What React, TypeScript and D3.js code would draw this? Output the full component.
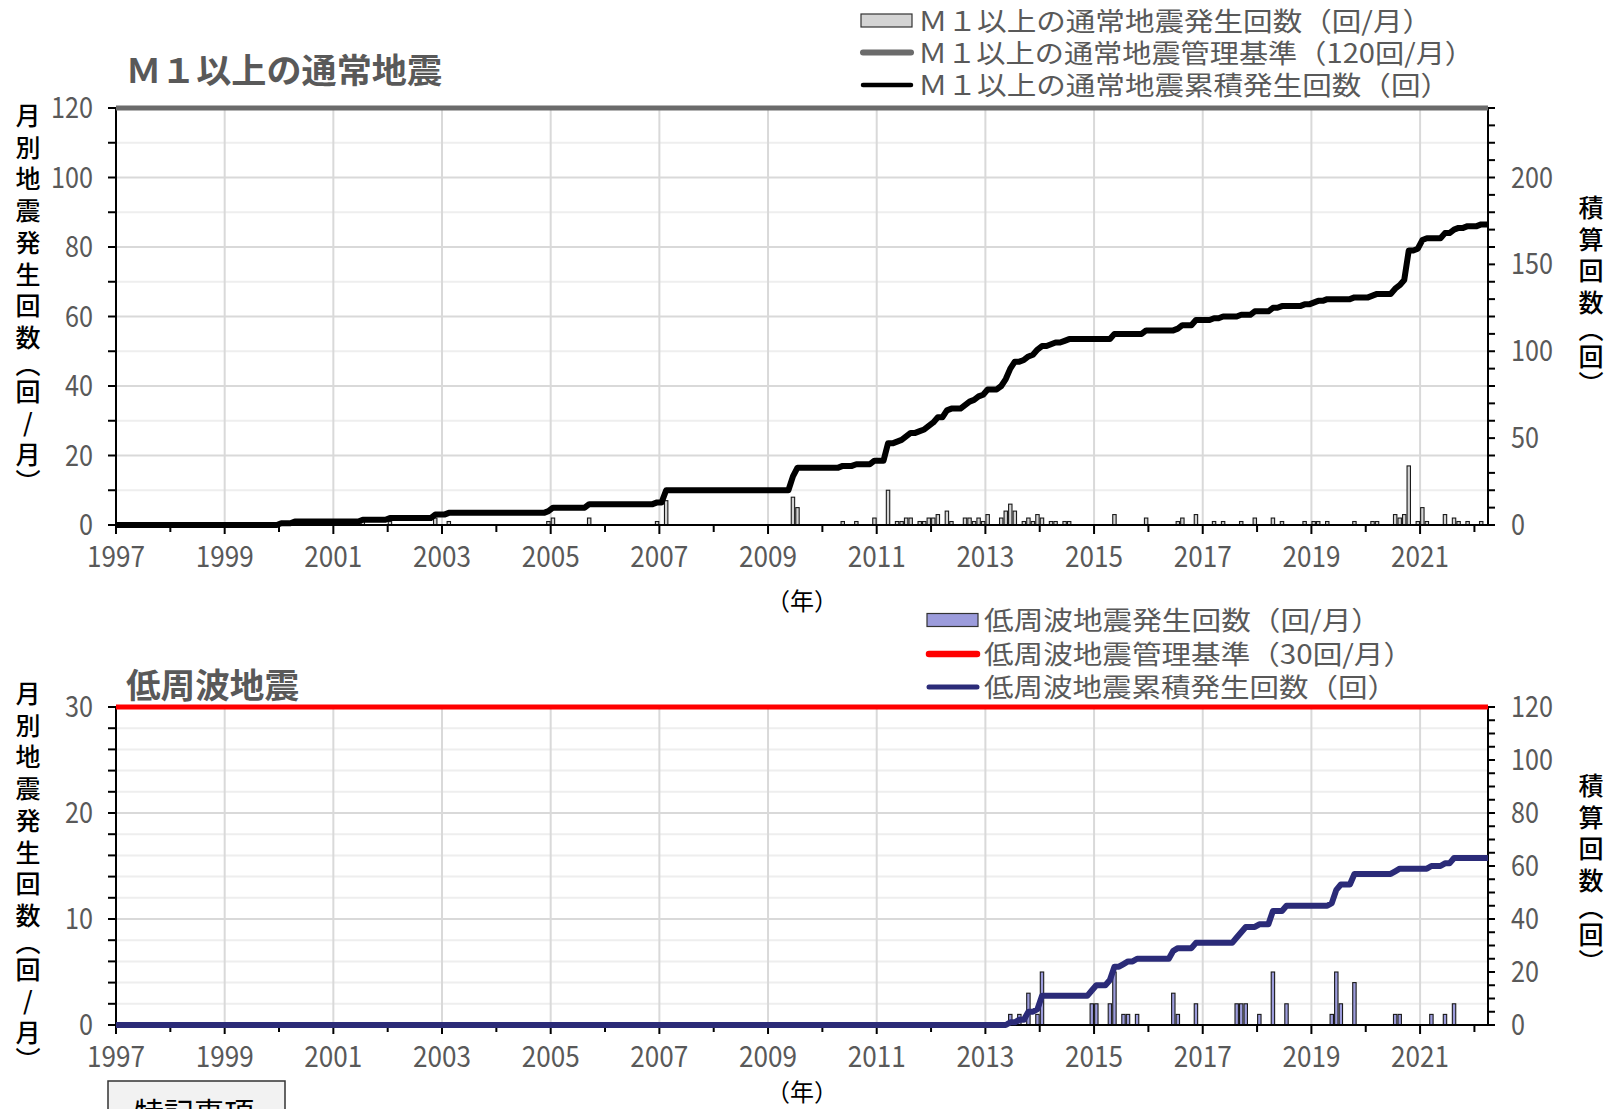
import * as d3 from "d3";

// month keys and counts (only non-zero months)
const m1Months = [
  "2000-01", "2000-04", "2001-07", "2002-01", "2002-11", "2003-02", "2004-12", "2005-01",
  "2005-09", "2006-12", "2007-02", "2009-06", "2009-07", "2010-05", "2010-08", "2010-12",
  "2011-03", "2011-05", "2011-06", "2011-07", "2011-08", "2011-10", "2011-11", "2011-12",
  "2012-01", "2012-02", "2012-04", "2012-05", "2012-08", "2012-09", "2012-10", "2012-11",
  "2012-12", "2013-01", "2013-04", "2013-05", "2013-06", "2013-07", "2013-09", "2013-10",
  "2013-11", "2013-12", "2014-01", "2014-03", "2014-04", "2014-06", "2014-07", "2015-05",
  "2015-12", "2016-07", "2016-08", "2016-11", "2017-03", "2017-05", "2017-09", "2017-12",
  "2018-04", "2018-06", "2018-11", "2019-01", "2019-02", "2019-04", "2019-10", "2020-02",
  "2020-03", "2020-07", "2020-08", "2020-09", "2020-10", "2020-12", "2021-01", "2021-02",
  "2021-06", "2021-08", "2021-09", "2021-11", "2022-02",
];
const m1Counts = [
  1, 1, 1, 1, 2, 1, 1, 2,
  2, 1, 7, 8, 5, 1, 1, 2,
  10, 1, 1, 2, 2, 1, 1, 2,
  2, 3, 4, 1, 2, 2, 1, 2,
  1, 3, 2, 4, 6, 4, 1, 2,
  1, 3, 2, 1, 1, 1, 1, 3,
  2, 1, 2, 3, 1, 1, 1, 2,
  2, 1, 1, 1, 1, 1, 1, 1,
  1, 3, 2, 3, 17, 1, 5, 1,
  3, 2, 1, 1, 1,
];

const lfMonths = [
  "2013-06", "2013-08", "2013-10", "2013-12", "2014-01", "2014-12", "2015-01", "2015-04",
  "2015-05", "2015-07", "2015-08", "2015-10", "2016-06", "2016-07", "2016-11", "2017-08",
  "2017-09", "2017-10", "2018-01", "2018-04", "2018-07", "2019-05", "2019-06", "2019-07",
  "2019-10", "2020-07", "2020-08", "2021-03", "2021-06", "2021-08",
];
const lfCounts = [
  1, 1, 3, 1, 5, 2, 2, 2,
  5, 1, 1, 1, 3, 1, 2, 2,
  2, 2, 1, 5, 2, 1, 5, 2,
  4, 1, 1, 1, 1, 2,
];

const yearLabels = [1997, 1999, 2001, 2003, 2005, 2007, 2009, 2011, 2013, 2015, 2017, 2019, 2021];
const leftTitle = ["月", "別", "地", "震", "発", "生", "回", "数", "︵", "回", "/", "月", "︶"];
const rightTitle = ["積", "算", "回", "数", "︵", "回", "︶"];

const START = 1997;
const END = 2022.25;
const N_MONTHS = 303;
const FONT = "'Noto Sans CJK JP', 'Noto Sans', sans-serif";
const GRAY_TEXT = "#595959";

const x = d3.scaleLinear().domain([START, END]).range([116, 1488]);

function toMonthly(months: string[], counts: number[]) {
  const arr = new Array(N_MONTHS).fill(0);
  months.forEach((m, i) => {
    const [yy, mm] = m.split("-").map(Number);
    arr[(yy - START) * 12 + mm - 1] += counts[i];
  });
  return arr;
}

interface PanelProps {
  top: number;
  bottom: number;
  yMax: number;
  tickStep: number;
  gridMajor: number;
  labelStep: number;
  rMax: number;
  rTickStep: number;
  rLabels: number[];
  months: string[];
  counts: number[];
  barFill: string;
  lineColor: string;
  limitColor: string;
}

function Panel(p: PanelProps) {
  const y = d3.scaleLinear().domain([0, p.yMax]).range([p.bottom, p.top]);
  const yr = d3.scaleLinear().domain([0, p.rMax]).range([p.bottom, p.top]);
  const monthly = toMonthly(p.months, p.counts);
  const cum = Array.from(d3.cumsum(monthly));
  const pts: [number, number][] = [[START, 0]];
  cum.forEach((v, i) => pts.push([START + (i + 0.5) / 12, v]));
  pts.push([END, cum[cum.length - 1]]);
  const line = d3
    .line<[number, number]>()
    .x((d) => x(d[0]))
    .y((d) => yr(d[1]));

  const yTicks = d3.range(0, p.yMax + 0.001, p.tickStep);
  const rTicks = d3.range(0, p.rMax + 0.001, p.rTickStep);
  const xTicks = d3.range(1997, 2023);
  const bw = 3.4;
  const left = x.range()[0];
  const right = x.range()[1];

  return (
    <g>
      {/* horizontal grid */}
      {yTicks.slice(1).map((t) => (
        <line
          key={"h" + t}
          x1={left}
          x2={right}
          y1={y(t)}
          y2={y(t)}
          stroke={t % p.gridMajor === 0 ? "#d9d9d9" : "#eeeeee"}
          strokeWidth={2}
        />
      ))}
      {/* vertical grid */}
      {yearLabels.slice(1).map((yy) => (
        <line key={"v" + yy} x1={x(yy)} x2={x(yy)} y1={p.top} y2={p.bottom} stroke="#d9d9d9" strokeWidth={2} />
      ))}

      {/* monthly bars */}
      {monthly.map((v, i) =>
        v > 0 ? (
          <rect
            key={"b" + i}
            x={x(START + (i + 0.5) / 12) - bw / 2}
            y={y(v)}
            width={bw}
            height={p.bottom - y(v)}
            fill={p.barFill}
            stroke="#1a1a1a"
            strokeWidth={1.1}
          />
        ) : null
      )}

      {/* axes */}
      <line x1={left} x2={right} y1={p.bottom} y2={p.bottom} stroke="#000" strokeWidth={2} />
      <line x1={left} x2={left} y1={p.top} y2={p.bottom + 1} stroke="#000" strokeWidth={2} />
      <line x1={right} x2={right} y1={p.top} y2={p.bottom + 1} stroke="#000" strokeWidth={2} />
      {yTicks.map((t) => (
        <line key={"lt" + t} x1={left - 8} x2={left} y1={y(t)} y2={y(t)} stroke="#000" strokeWidth={2} />
      ))}
      {rTicks.map((t) => (
        <line key={"rt" + t} x1={right} x2={right + 7} y1={yr(t)} y2={yr(t)} stroke="#000" strokeWidth={2} />
      ))}
      {xTicks.map((t) => (
        <line
          key={"xt" + t}
          x1={x(t)}
          x2={x(t)}
          y1={p.bottom}
          y2={p.bottom + ((t - 1997) % 2 === 0 ? 9 : 7)}
          stroke="#000"
          strokeWidth={2}
        />
      ))}

      {/* cumulative line */}
      <path d={line(pts) ?? ""} fill="none" stroke={p.lineColor} strokeWidth={6} strokeLinejoin="round" />
      {/* management limit */}
      <line x1={left} x2={right} y1={y(p.yMax)} y2={y(p.yMax)} stroke={p.limitColor} strokeWidth={5} />

      {/* tick labels */}
      {d3.range(0, p.yMax + 0.001, p.labelStep).map((t) => (
        <text
          key={"ll" + t}
          x={93}
          y={y(t) + 10}
          textAnchor="end"
          fontSize={29}
          fill={GRAY_TEXT}
          fontFamily={FONT}
          textLength={String(t).length * 14}
          lengthAdjust="spacingAndGlyphs"
        >
          {t}
        </text>
      ))}
      {p.rLabels.map((t) => (
        <text
          key={"rl" + t}
          x={1511}
          y={yr(t) + 10}
          fontSize={29}
          fill={GRAY_TEXT}
          fontFamily={FONT}
          textLength={String(t).length * 14}
          lengthAdjust="spacingAndGlyphs"
        >
          {t}
        </text>
      ))}
      {yearLabels.map((yy) => (
        <text
          key={"xl" + yy}
          x={x(yy)}
          y={p.bottom + 42}
          textAnchor="middle"
          fontSize={29}
          fill={GRAY_TEXT}
          fontFamily={FONT}
          textLength={58}
          lengthAdjust="spacingAndGlyphs"
        >
          {yy}
        </text>
      ))}
    </g>
  );
}

// stacked one-character-per-row title: one text element with per-glyph positions
function VerticalTitle({ chars, cx, y0, step }: { chars: string[]; cx: number; y0: number; step: number }) {
  const ys: number[] = [];
  let cy = y0;
  chars.forEach((c, i) => {
    const paren = c === "︵" || c === "︶";
    if (i > 0) cy += paren || chars[i - 1] === "︵" ? step * 0.85 : step;
    ys.push(cy + 9);
  });
  return (
    <text
      x={chars.map(() => cx).join(" ")}
      y={ys.join(" ")}
      textAnchor="middle"
      fontSize={25}
      fontWeight={500}
      fill="#000"
      fontFamily={FONT}
    >
      {chars.join("")}
    </text>
  );
}

function LegendRow(props: {
  y: number;
  x0: number;
  kind: "rect" | "line";
  color: string;
  width?: number;
  label: string;
  textLength: number;
}) {
  const { y, x0, kind, color, width, label, textLength } = props;
  return (
    <g>
      {kind === "rect" ? (
        <rect x={x0} y={y - 6.5} width={51} height={13} fill={color} stroke="#333" strokeWidth={1.2} />
      ) : (
        <line x1={x0 + 2} x2={x0 + 50} y1={y} y2={y} stroke={color} strokeWidth={width} strokeLinecap="round" />
      )}
      <text
        x={x0 + 57}
        y={y + 10}
        fontSize={26.5}
        fill={GRAY_TEXT}
        fontFamily={FONT}
        textLength={textLength}
        lengthAdjust="spacingAndGlyphs"
      >
        {label}
      </text>
    </g>
  );
}

export default function App() {
  return (
    <svg
      width={1612}
      height={1109}
      style={{ position: "absolute", left: 0, top: 0, display: "block", background: "#fff" }}
    >
      {/* ===== upper panel ===== */}
      <text x={126} y={83} fontSize={34} fontWeight="bold" fill={GRAY_TEXT} fontFamily={FONT} textLength={316} lengthAdjust="spacingAndGlyphs">
        Ｍ１以上の通常地震
      </text>
      <LegendRow y={20.5} x0={861} kind="rect" color="#d4d4d4" label="Ｍ１以上の通常地震発生回数（回/月）" textLength={514} />
      <LegendRow y={52.5} x0={861} kind="line" color="#6b6b6b" width={6} label="Ｍ１以上の通常地震管理基準（120回/月）" textLength={556} />
      <LegendRow y={85} x0={861} kind="line" color="#000" width={4.5} label="Ｍ１以上の通常地震累積発生回数（回）" textLength={532} />
      <Panel
        top={108}
        bottom={525}
        yMax={120}
        tickStep={10}
        gridMajor={20}
        labelStep={20}
        rMax={240}
        rTickStep={10}
        rLabels={[0, 50, 100, 150, 200]}
        months={m1Months}
        counts={m1Counts}
        barFill="#d4d4d4"
        lineColor="#000"
        limitColor="#6b6b6b"
      />
      <VerticalTitle chars={leftTitle} cx={28} y0={116} step={31.7} />
      <VerticalTitle chars={rightTitle} cx={1591} y0={208} step={31.7} />
      <text x={802} y={610} textAnchor="middle" fontSize={24} fill="#000" fontFamily={FONT}>
        （年）
      </text>

      {/* ===== lower panel ===== */}
      <text x={126} y={698} fontSize={34} fontWeight="bold" fill={GRAY_TEXT} fontFamily={FONT} textLength={173} lengthAdjust="spacingAndGlyphs">
        低周波地震
      </text>
      <LegendRow y={620} x0={927} kind="rect" color="#9c9cdc" label="低周波地震発生回数（回/月）" textLength={397} />
      <LegendRow y={654} x0={927} kind="line" color="#ff0000" width={6.5} label="低周波地震管理基準（30回/月）" textLength={429} />
      <LegendRow y={687} x0={927} kind="line" color="#2b2b78" width={5} label="低周波地震累積発生回数（回）" textLength={413} />
      <Panel
        top={707}
        bottom={1025}
        yMax={30}
        tickStep={2}
        gridMajor={10}
        labelStep={10}
        rMax={120}
        rTickStep={5}
        rLabels={[0, 20, 40, 60, 80, 100, 120]}
        months={lfMonths}
        counts={lfCounts}
        barFill="#9c9cdc"
        lineColor="#2b2b78"
        limitColor="#ff0000"
      />
      <VerticalTitle chars={leftTitle} cx={28} y0={694} step={31.7} />
      <VerticalTitle chars={rightTitle} cx={1591} y0={786} step={31.7} />
      <text x={802} y={1101} textAnchor="middle" fontSize={24} fill="#000" fontFamily={FONT}>
        （年）
      </text>

      {/* notes box, cut off by the page edge as in the source */}
      <rect x={108} y={1081} width={177} height={60} fill="#f2f2f2" stroke="#333" strokeWidth={1.5} />
      <text x={134} y={1124} fontSize={30} fill="#000" fontFamily={FONT}>
        特記事項
      </text>
    </svg>
  );
}
